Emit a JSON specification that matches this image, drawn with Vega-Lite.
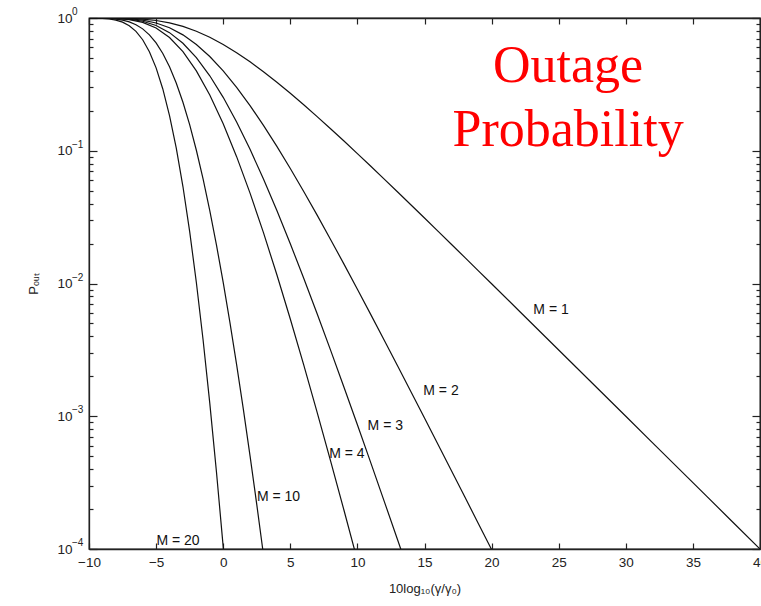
{
  "$schema": "https://vega.github.io/schema/vega-lite/v6.json",
  "width": 671,
  "height": 531,
  "autosize": "none",
  "padding": {"left": 89, "top": 18, "right": 1, "bottom": 57},
  "background": "white",
  "config": {
    "view": {"stroke": "#222", "strokeWidth": 1.3},
    "axis": {
      "grid": false,
      "domainColor": "#222",
      "domainWidth": 1.3,
      "tickColor": "#222",
      "tickWidth": 1.2,
      "labelFont": "Liberation Sans",
      "labelFontSize": 13.5,
      "labelColor": "#222",
      "labelFlush": false,
      "titleFont": "Liberation Sans",
      "titleFontSize": 13,
      "titleFontWeight": "normal",
      "titleColor": "#222"
    }
  },
  "datasets": {
    "curves": [
      {"M": 1, "x": -10, "p": 0.99995}, {"M": 1, "x": -9, "p": 0.99965}, {"M": 1, "x": -8, "p": 0.99818}, {"M": 1, "x": -7, "p": 0.99334}, {"M": 1, "x": -6, "p": 0.98133}, {"M": 1, "x": -5, "p": 0.95767}, {"M": 1, "x": -4, "p": 0.91889}, {"M": 1, "x": -3, "p": 0.86402}, {"M": 1, "x": -2, "p": 0.79503}, {"M": 1, "x": -1, "p": 0.71604}, {"M": 1, "x": 0, "p": 0.63212}, {"M": 1, "x": 1, "p": 0.54812}, {"M": 1, "x": 2, "p": 0.46792}, {"M": 1, "x": 3, "p": 0.39419}, {"M": 1, "x": 4, "p": 0.32841}, {"M": 1, "x": 5, "p": 0.27111}, {"M": 1, "x": 6, "p": 0.22212}, {"M": 1, "x": 7, "p": 0.18088}, {"M": 1, "x": 8, "p": 0.14657}, {"M": 1, "x": 9, "p": 0.11829}, {"M": 1, "x": 10, "p": 0.095163}, {"M": 1, "x": 11, "p": 0.076362}, {"M": 1, "x": 12, "p": 0.061147}, {"M": 1, "x": 13, "p": 0.048884}, {"M": 1, "x": 14, "p": 0.039029}, {"M": 1, "x": 15, "p": 0.031128}, {"M": 1, "x": 16, "p": 0.024806}, {"M": 1, "x": 17, "p": 0.019755}, {"M": 1, "x": 18, "p": 0.015724}, {"M": 1, "x": 19, "p": 0.01251}, {"M": 1, "x": 20, "p": 0.00995}, {"M": 1, "x": 22, "p": 0.0062897}, {"M": 1, "x": 24, "p": 0.0039732}, {"M": 1, "x": 26, "p": 0.0025087}, {"M": 1, "x": 28, "p": 0.0015836}, {"M": 1, "x": 30, "p": 0.0009995}, {"M": 1, "x": 32, "p": 0.00063076}, {"M": 1, "x": 34, "p": 0.00039803}, {"M": 1, "x": 36, "p": 0.00025116}, {"M": 1, "x": 38, "p": 0.00015848}, {"M": 1, "x": 40, "p": 0.0001},
      {"M": 2, "x": -10, "p": 0.99991}, {"M": 2, "x": -9, "p": 0.99929}, {"M": 2, "x": -8, "p": 0.99637}, {"M": 2, "x": -7, "p": 0.98673}, {"M": 2, "x": -6, "p": 0.96302}, {"M": 2, "x": -5, "p": 0.91714}, {"M": 2, "x": -4, "p": 0.84435}, {"M": 2, "x": -3, "p": 0.74654}, {"M": 2, "x": -2, "p": 0.63207}, {"M": 2, "x": -1, "p": 0.51272}, {"M": 2, "x": 0, "p": 0.39958}, {"M": 2, "x": 1, "p": 0.30043}, {"M": 2, "x": 2, "p": 0.21895}, {"M": 2, "x": 3, "p": 0.15539}, {"M": 2, "x": 4, "p": 0.10785}, {"M": 2, "x": 5, "p": 0.0735}, {"M": 2, "x": 6, "p": 0.049339}, {"M": 2, "x": 7, "p": 0.032718}, {"M": 2, "x": 8, "p": 0.021482}, {"M": 2, "x": 9, "p": 0.013993}, {"M": 2, "x": 10, "p": 0.0090558}, {"M": 2, "x": 11, "p": 0.005831}, {"M": 2, "x": 12, "p": 0.003739}, {"M": 2, "x": 13, "p": 0.0023897}, {"M": 2, "x": 14, "p": 0.0015232}, {"M": 2, "x": 15, "p": 0.00096896}, {"M": 2, "x": 16, "p": 0.00061533}, {"M": 2, "x": 17, "p": 0.00038976}, {"M": 2, "x": 18, "p": 0.00024725}, {"M": 2, "x": 19, "p": 0.0001565}, {"M": 2, "x": 20, "p": 0.00009901},
      {"M": 3, "x": -10, "p": 0.99986}, {"M": 3, "x": -9, "p": 0.99894}, {"M": 3, "x": -8, "p": 0.99455}, {"M": 3, "x": -7, "p": 0.98016}, {"M": 3, "x": -6, "p": 0.94504}, {"M": 3, "x": -5, "p": 0.87832}, {"M": 3, "x": -4, "p": 0.77586}, {"M": 3, "x": -3, "p": 0.64503}, {"M": 3, "x": -2, "p": 0.50251}, {"M": 3, "x": -1, "p": 0.36713}, {"M": 3, "x": 0, "p": 0.25258}, {"M": 3, "x": 1, "p": 0.16467}, {"M": 3, "x": 2, "p": 0.10245}, {"M": 3, "x": 3, "p": 0.061251}, {"M": 3, "x": 4, "p": 0.03542}, {"M": 3, "x": 5, "p": 0.019926}, {"M": 3, "x": 6, "p": 0.010959}, {"M": 3, "x": 7, "p": 0.005918}, {"M": 3, "x": 8, "p": 0.0031486}, {"M": 3, "x": 9, "p": 0.0016553}, {"M": 3, "x": 10, "p": 0.00086178}, {"M": 3, "x": 11, "p": 0.00044528}, {"M": 3, "x": 12, "p": 0.00022863}, {"M": 3, "x": 13, "p": 0.00011682}, {"M": 3, "x": 13.5, "p": 0.0000834},
      {"M": 4, "x": -10, "p": 0.99982}, {"M": 4, "x": -9, "p": 0.99858}, {"M": 4, "x": -8, "p": 0.99274}, {"M": 4, "x": -7, "p": 0.97363}, {"M": 4, "x": -6, "p": 0.9274}, {"M": 4, "x": -5, "p": 0.84114}, {"M": 4, "x": -4, "p": 0.71292}, {"M": 4, "x": -3, "p": 0.55732}, {"M": 4, "x": -2, "p": 0.39951}, {"M": 4, "x": -1, "p": 0.26288}, {"M": 4, "x": 0, "p": 0.15966}, {"M": 4, "x": 1, "p": 0.090257}, {"M": 4, "x": 2, "p": 0.047937}, {"M": 4, "x": 3, "p": 0.024145}, {"M": 4, "x": 4, "p": 0.011633}, {"M": 4, "x": 5, "p": 0.0054022}, {"M": 4, "x": 6, "p": 0.0024344}, {"M": 4, "x": 7, "p": 0.0010704}, {"M": 4, "x": 8, "p": 0.00046149}, {"M": 4, "x": 9, "p": 0.00019581}, {"M": 4, "x": 10, "p": 0.00008201},
      {"M": 10, "x": -10, "p": 0.99955}, {"M": 10, "x": -9.5, "p": 0.99865}, {"M": 10, "x": -9, "p": 0.99646}, {"M": 10, "x": -8.5, "p": 0.99161}, {"M": 10, "x": -8, "p": 0.98196}, {"M": 10, "x": -7.5, "p": 0.96448}, {"M": 10, "x": -7, "p": 0.93537}, {"M": 10, "x": -6.5, "p": 0.89091}, {"M": 10, "x": -6, "p": 0.82827}, {"M": 10, "x": -5.5, "p": 0.74676}, {"M": 10, "x": -5, "p": 0.64889}, {"M": 10, "x": -4.5, "p": 0.54034}, {"M": 10, "x": -4, "p": 0.42915}, {"M": 10, "x": -3.5, "p": 0.32395}, {"M": 10, "x": -3, "p": 0.23188}, {"M": 10, "x": -2.5, "p": 0.15717}, {"M": 10, "x": -2, "p": 0.10089}, {"M": 10, "x": -1.5, "p": 0.06137}, {"M": 10, "x": -1, "p": 0.035431}, {"M": 10, "x": -0.5, "p": 0.019456}, {"M": 10, "x": 0, "p": 0.010186}, {"M": 10, "x": 0.5, "p": 0.0050988}, {"M": 10, "x": 1, "p": 0.0024474}, {"M": 10, "x": 1.5, "p": 0.00113}, {"M": 10, "x": 2, "p": 0.00050313}, {"M": 10, "x": 2.5, "p": 0.00021675}, {"M": 10, "x": 3, "p": 0.0000906},
      {"M": 20, "x": -10, "p": 0.99909}, {"M": 20, "x": -9.5, "p": 0.99731}, {"M": 20, "x": -9, "p": 0.99292}, {"M": 20, "x": -8.5, "p": 0.98328}, {"M": 20, "x": -8, "p": 0.96425}, {"M": 20, "x": -7.5, "p": 0.93022}, {"M": 20, "x": -7, "p": 0.87493}, {"M": 20, "x": -6.5, "p": 0.79374}, {"M": 20, "x": -6, "p": 0.68603}, {"M": 20, "x": -5.5, "p": 0.55765}, {"M": 20, "x": -5, "p": 0.42105}, {"M": 20, "x": -4.5, "p": 0.29197}, {"M": 20, "x": -4, "p": 0.18417}, {"M": 20, "x": -3.5, "p": 0.10494}, {"M": 20, "x": -3, "p": 0.053767}, {"M": 20, "x": -2.5, "p": 0.024704}, {"M": 20, "x": -2, "p": 0.010178}, {"M": 20, "x": -1.5, "p": 0.0037663}, {"M": 20, "x": -1, "p": 0.0012554}, {"M": 20, "x": -0.5, "p": 0.00037851}, {"M": 20, "x": 0, "p": 0.00010375}, {"M": 20, "x": 0.5, "p": 0.000026}
    ],
    "labels": [
      {"label": "M = 1", "x": 24.43, "p": 0.00631},
      {"label": "M = 2", "x": 16.23, "p": 0.00155},
      {"label": "M = 3", "x": 12.08, "p": 0.000845},
      {"label": "M = 4", "x": 9.22, "p": 0.00052},
      {"label": "M = 10", "x": 4.12, "p": 0.000246},
      {"label": "M = 20", "x": -3.37, "p": 0.000114}
    ],
    "exponents": [
      {"e": "0", "p": 1},
      {"e": "−1", "p": 0.1},
      {"e": "−2", "p": 0.01},
      {"e": "−3", "p": 0.001},
      {"e": "−4", "p": 0.0001}
    ],
    "heading": [
      {"label": "Outage", "x": 25.7, "p": 0.3296},
      {"label": "Probability", "x": 25.7, "p": 0.1086}
    ]
  },
  "layer": [
    {
      "data": {"name": "curves"},
      "mark": {"type": "line", "clip": true, "color": "#111", "strokeWidth": 1.2},
      "encoding": {
        "x": {
          "field": "x", "type": "quantitative",
          "scale": {"domain": [-10, 40], "nice": false, "zero": false},
          "axis": {
            "orient": "bottom",
            "values": [-10, -5, 0, 5, 10, 15, 20, 25, 30, 35, 40],
            "tickSize": -6,
            "labelPadding": 12,
            "title": "10log₁₀(γ/γ₀)",
            "titlePadding": 14
          }
        },
        "y": {
          "field": "p", "type": "quantitative",
          "scale": {"type": "log", "domain": [0.0001, 1], "nice": false},
          "axis": {
            "orient": "left",
            "values": [0.0001, 0.0002, 0.0003, 0.0004, 0.0005, 0.0006, 0.0007, 0.0008, 0.0009, 0.001, 0.002, 0.003, 0.004, 0.005, 0.006, 0.007, 0.008, 0.009, 0.01, 0.02, 0.03, 0.04, 0.05, 0.06, 0.07, 0.08, 0.09, 0.1, 0.2, 0.3, 0.4, 0.5, 0.6, 0.7, 0.8, 0.9, 1],
            "labelExpr": "(datum.value == 1 || datum.value == 0.1 || datum.value == 0.01 || datum.value == 0.001 || datum.value == 0.0001) ? '10' : ''",
            "tickSize": {"condition": {"test": "datum.value == 1 || datum.value == 0.1 || datum.value == 0.01 || datum.value == 0.001 || datum.value == 0.0001", "value": -8}, "value": -4},
            "labelPadding": 25,
            "labelOverlap": false,
            "title": "Pₒᵤₜ",
            "titlePadding": 16
          }
        },
        "detail": {"field": "M", "type": "nominal"}
      }
    },
    {
      "data": {"name": "curves"},
      "mark": {"type": "line", "clip": true, "opacity": 0},
      "encoding": {
        "x": {
          "field": "x", "type": "quantitative",
          "scale": {"domain": [-10, 40], "nice": false, "zero": false},
          "axis": {
            "orient": "top",
            "values": [-10, -5, 0, 5, 10, 15, 20, 25, 30, 35, 40],
            "tickSize": -6,
            "labels": false,
            "title": null
          }
        },
        "y": {
          "field": "p", "type": "quantitative",
          "scale": {"type": "log", "domain": [0.0001, 1], "nice": false},
          "axis": {
            "orient": "right",
            "values": [0.0001, 0.0002, 0.0003, 0.0004, 0.0005, 0.0006, 0.0007, 0.0008, 0.0009, 0.001, 0.002, 0.003, 0.004, 0.005, 0.006, 0.007, 0.008, 0.009, 0.01, 0.02, 0.03, 0.04, 0.05, 0.06, 0.07, 0.08, 0.09, 0.1, 0.2, 0.3, 0.4, 0.5, 0.6, 0.7, 0.8, 0.9, 1],
            "tickSize": {"condition": {"test": "datum.value == 1 || datum.value == 0.1 || datum.value == 0.01 || datum.value == 0.001 || datum.value == 0.0001", "value": -8}, "value": -4},
            "labels": false,
            "title": null
          }
        },
        "detail": {"field": "M", "type": "nominal"}
      }
    },
    {
      "data": {"name": "exponents"},
      "mark": {"type": "text", "font": "Liberation Sans", "fontSize": 10, "color": "#222", "align": "left", "baseline": "middle", "dx": -17, "dy": -6},
      "encoding": {
        "x": {"datum": -10, "type": "quantitative", "axis": null},
        "y": {"field": "p", "type": "quantitative", "axis": null},
        "text": {"field": "e"}
      }
    },
    {
      "data": {"name": "labels"},
      "mark": {"type": "text", "font": "Liberation Sans", "fontSize": 14, "color": "#111", "align": "center", "baseline": "middle"},
      "encoding": {
        "x": {"field": "x", "type": "quantitative", "axis": null},
        "y": {"field": "p", "type": "quantitative", "axis": null},
        "text": {"field": "label"}
      }
    },
    {
      "data": {"name": "heading"},
      "mark": {"type": "text", "font": "Liberation Serif", "fontSize": 52, "color": "#ff0000", "align": "center", "baseline": "alphabetic"},
      "encoding": {
        "x": {"field": "x", "type": "quantitative", "axis": null},
        "y": {"field": "p", "type": "quantitative", "axis": null},
        "text": {"field": "label"}
      }
    }
  ],
  "resolve": {"axis": {"x": "independent", "y": "independent"}}
}
